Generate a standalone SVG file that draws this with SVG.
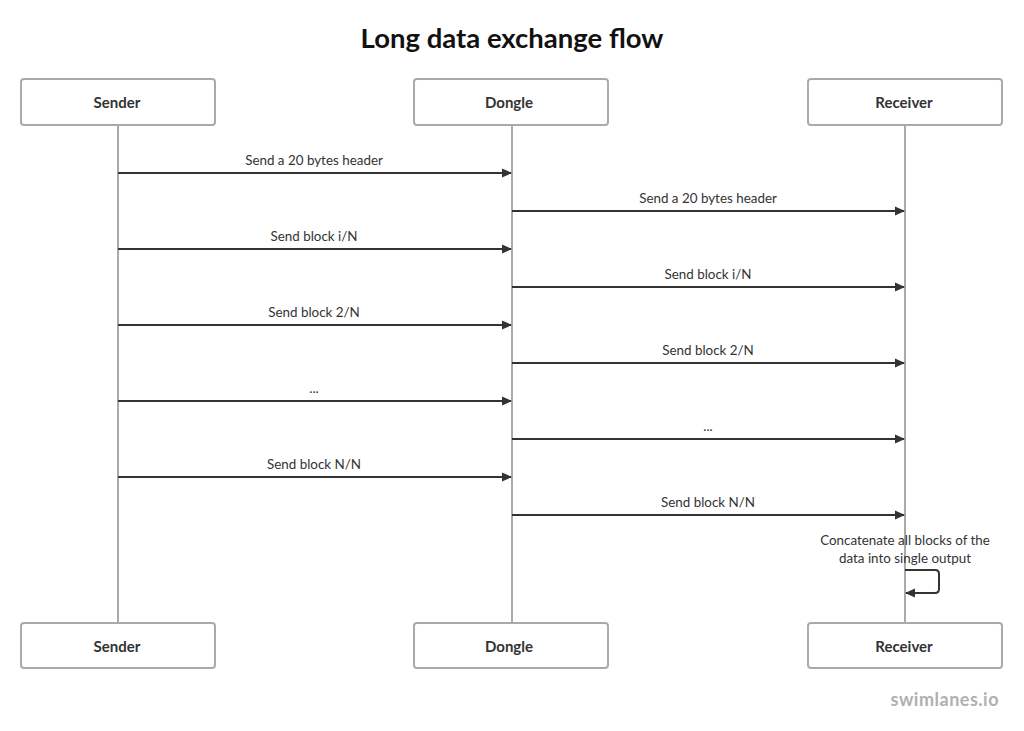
<svg xmlns="http://www.w3.org/2000/svg" width="1024" height="731" viewBox="0 0 1024 731">
<style>
text{font-family:Lato,"Open Sans","Liberation Sans",sans-serif;fill:#333}
.box{fill:#fff;stroke:#aaa;stroke-width:2}
.life{stroke:#aaa;stroke-width:2}
.name{font-size:15px;font-weight:bold;text-anchor:middle}
.msg{stroke:#333;stroke-width:2;fill:none}
.lbl{font-size:13.4px;text-anchor:middle}
</style>
<defs>
<marker id="ah" markerWidth="10" markerHeight="10" refX="9" refY="5" orient="auto" markerUnits="userSpaceOnUse">
<path d="M0,0.5 L10,5 L0,9.5 Z" fill="#333"/>
</marker>
</defs>
<rect width="1024" height="731" fill="#fff"/>
<text x="512" y="48" font-size="27.5" font-weight="bold" text-anchor="middle" style="fill:#111">Long data exchange flow</text>
<g id="lifelines">
<line class="life" x1="118" y1="125" x2="118" y2="623"/>
<line class="life" x1="512" y1="125" x2="512" y2="623"/>
<line class="life" x1="905" y1="125" x2="905" y2="623"/>
</g>
<g id="sender"><rect class="box" x="21" y="79" width="194" height="46" rx="3"/><text class="name" x="117" y="108">Sender</text></g>
<g id="dongle"><rect class="box" x="414" y="79" width="194" height="46" rx="3"/><text class="name" x="509" y="108">Dongle</text></g>
<g id="receiver"><rect class="box" x="808" y="79" width="194" height="46" rx="3"/><text class="name" x="904" y="108">Receiver</text></g>
<g id="sender-bottom"><rect class="box" x="21" y="623" width="194" height="45" rx="3"/><text class="name" x="117" y="652">Sender</text></g>
<g id="dongle-bottom"><rect class="box" x="414" y="623" width="194" height="45" rx="3"/><text class="name" x="509" y="652">Dongle</text></g>
<g id="receiver-bottom"><rect class="box" x="808" y="623" width="194" height="45" rx="3"/><text class="name" x="904" y="652">Receiver</text></g>
<g id="connectors">
<line class="msg" x1="118" y1="173" x2="511" y2="173" marker-end="url(#ah)"/>
<text class="lbl" x="314" y="165">Send a 20 bytes header</text>
<line class="msg" x1="512" y1="211" x2="904" y2="211" marker-end="url(#ah)"/>
<text class="lbl" x="708" y="203">Send a 20 bytes header</text>
<line class="msg" x1="118" y1="249" x2="511" y2="249" marker-end="url(#ah)"/>
<text class="lbl" x="314" y="241">Send block i/N</text>
<line class="msg" x1="512" y1="287" x2="904" y2="287" marker-end="url(#ah)"/>
<text class="lbl" x="708" y="279">Send block i/N</text>
<line class="msg" x1="118" y1="325" x2="511" y2="325" marker-end="url(#ah)"/>
<text class="lbl" x="314" y="317">Send block 2/N</text>
<line class="msg" x1="512" y1="363" x2="904" y2="363" marker-end="url(#ah)"/>
<text class="lbl" x="708" y="355">Send block 2/N</text>
<line class="msg" x1="118" y1="401" x2="511" y2="401" marker-end="url(#ah)"/>
<text class="lbl" x="314" y="393">...</text>
<line class="msg" x1="512" y1="439" x2="904" y2="439" marker-end="url(#ah)"/>
<text class="lbl" x="708" y="431">...</text>
<line class="msg" x1="118" y1="477" x2="511" y2="477" marker-end="url(#ah)"/>
<text class="lbl" x="314" y="469">Send block N/N</text>
<line class="msg" x1="512" y1="515" x2="904" y2="515" marker-end="url(#ah)"/>
<text class="lbl" x="708" y="507">Send block N/N</text>
<path class="msg" d="M905,570 H935 Q939,570 939,574 V589 Q939,593 935,593 H906" marker-end="url(#ah)"/>
<text class="lbl" x="905" y="545">Concatenate all blocks of the</text>
<text class="lbl" x="905" y="563">data into single output</text>
</g>
<text x="999" y="706" font-size="18" font-weight="bold" text-anchor="end" letter-spacing="0.5" style="fill:#b0b0b0">swimlanes.io</text>
</svg>
